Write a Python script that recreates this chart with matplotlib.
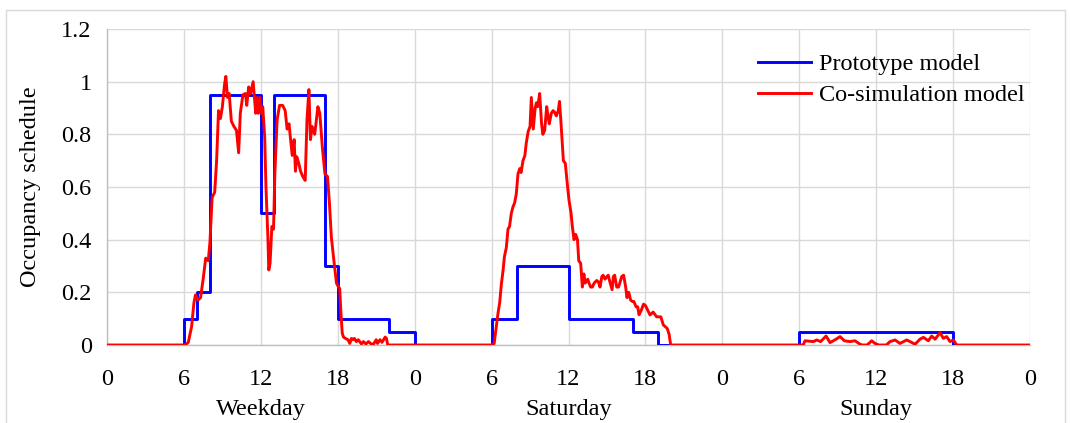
import matplotlib
matplotlib.use("Agg")
import matplotlib.pyplot as plt
from matplotlib.patches import Rectangle

# ---- Prototype model (hourly step schedule, value for each hour) ----
weekday_proto = [0, 0, 0, 0, 0, 0, 0.1, 0.2, 0.95, 0.95, 0.95, 0.95,
                 0.5, 0.95, 0.95, 0.95, 0.95, 0.3, 0.1, 0.1, 0.1, 0.1, 0.05, 0.05]
saturday_proto = [0, 0, 0, 0, 0, 0, 0.1, 0.1, 0.3, 0.3, 0.3, 0.3,
                  0.1, 0.1, 0.1, 0.1, 0.1, 0.05, 0.05, 0, 0, 0, 0, 0]
sunday_proto = [0, 0, 0, 0, 0, 0, 0.05, 0.05, 0.05, 0.05, 0.05, 0.05,
                0.05, 0.05, 0.05, 0.05, 0.05, 0.05, 0, 0, 0, 0, 0, 0]

# ---- Co-simulation model (hour of day, value) ----
weekday_cosim_t = [0, 6.0, 6.1, 6.34, 6.6, 6.78, 6.9, 7.1, 7.3, 7.5, 7.7, 7.9, 8.03, 8.2, 8.4,
                   8.55, 8.7, 8.85, 9.0, 9.17, 9.27, 9.4, 9.53, 9.7, 9.9, 10.1, 10.27, 10.4,
                   10.6, 10.8, 10.9, 11.05, 11.2, 11.4, 11.6, 11.7, 11.8, 11.92, 12.03, 12.15,
                   12.3, 12.4, 12.55, 12.62, 12.72, 12.86, 12.99, 13.1, 13.27, 13.46, 13.7,
                   13.9, 14.05, 14.2, 14.3, 14.45, 14.6, 14.7, 14.8, 14.96, 15.1, 15.27, 15.46,
                   15.6, 15.75, 15.87, 16.0, 16.2, 16.3, 16.45, 16.6, 16.8, 17.0, 17.2, 17.35,
                   17.5, 17.7, 17.9, 18.06, 18.15, 18.25, 18.35, 18.45, 18.6, 18.8, 18.94,
                   19.07, 19.2, 19.3, 19.45, 19.6, 19.85, 20.0, 20.2, 20.4, 20.6, 20.8, 21.0,
                   21.1, 21.3, 21.45, 21.7, 21.8, 21.9, 24.0]
weekday_cosim_v = [0, 0, 0.0, 0.01, 0.07, 0.16, 0.19, 0.17, 0.18, 0.25, 0.33, 0.32, 0.39, 0.56, 0.58,
                   0.70, 0.89, 0.86, 0.905, 0.99, 1.02, 0.94, 0.955, 0.85, 0.83, 0.815, 0.73, 0.88,
                   0.95, 0.955, 0.91, 0.98, 0.955, 1.0, 0.88, 0.94, 0.88, 0.94, 0.88, 0.905,
                   0.79, 0.60, 0.41, 0.285, 0.31, 0.45, 0.44, 0.66, 0.855, 0.91, 0.91,
                   0.89, 0.82, 0.84, 0.79, 0.72, 0.78, 0.66, 0.715, 0.69, 0.66, 0.64, 0.625,
                   0.855, 0.97, 0.78, 0.83, 0.80, 0.84, 0.905, 0.88, 0.75, 0.65, 0.64, 0.54,
                   0.41, 0.32, 0.235, 0.22, 0.215, 0.12, 0.045, 0.03, 0.025, 0.02, 0.006,
                   0.025, 0.02, 0.025, 0.013, 0.02, 0.004, 0.013, 0.004, 0.013, 0.004, 0.004, 0.02,
                   0.006, 0.02, 0.01, 0.03, 0.025, 0.0, 0]

saturday_cosim_t = [0, 6.0, 6.2, 6.37, 6.5, 6.63, 6.76, 6.9, 7.0, 7.15, 7.28, 7.4, 7.54, 7.67, 7.8,
                    7.93, 8.06, 8.2, 8.3, 8.45, 8.6, 8.7, 8.85, 9.0, 9.1, 9.25, 9.4, 9.5, 9.6,
                    9.75, 9.9, 10.0, 10.14, 10.3, 10.4, 10.5, 10.66, 10.8, 10.9, 11.05, 11.2,
                    11.3, 11.4, 11.6, 11.75, 11.93, 12.04, 12.2, 12.3, 12.43, 12.56, 12.7, 12.8,
                    12.95, 13.08, 13.2, 13.3, 13.5, 13.6, 13.73, 13.86, 14.0, 14.2, 14.33, 14.46,
                    14.6, 14.7, 14.85, 15.0, 15.1, 15.2, 15.4, 15.5, 15.6, 15.76, 15.9, 16.0,
                    16.15, 16.3, 16.46, 16.56, 16.7, 16.85, 17.0, 17.1, 17.27, 17.4, 17.5, 17.66,
                    17.85, 18.0, 18.2, 18.36, 18.6, 18.88, 19.2, 19.4, 19.7, 19.85, 19.97, 24.0]
saturday_cosim_v = [0, 0, 0.006, 0.07, 0.12, 0.16, 0.23, 0.285, 0.335, 0.37, 0.44, 0.45, 0.50, 0.525, 0.54,
                    0.575, 0.65, 0.67, 0.655, 0.70, 0.72, 0.765, 0.81, 0.83, 0.94, 0.82, 0.90, 0.92, 0.905,
                    0.955, 0.84, 0.80, 0.815, 0.905, 0.87, 0.84, 0.88, 0.89, 0.885, 0.87, 0.89,
                    0.925, 0.855, 0.70, 0.69, 0.60, 0.55, 0.50, 0.45, 0.40, 0.42, 0.40, 0.32,
                    0.31, 0.22, 0.27, 0.235, 0.25, 0.235, 0.22, 0.22, 0.235, 0.245, 0.24, 0.22,
                    0.26, 0.265, 0.25, 0.26, 0.265, 0.245, 0.21, 0.26, 0.265, 0.22, 0.22, 0.235,
                    0.26, 0.265, 0.22, 0.18, 0.20, 0.17, 0.165, 0.165, 0.145, 0.145, 0.115, 0.13,
                    0.155, 0.15, 0.13, 0.114, 0.125, 0.107, 0.107, 0.076, 0.063, 0.04, 0.0, 0]

sunday_cosim_t = [0, 6.3, 6.45, 7.1, 7.36, 7.67, 8.09, 8.4, 8.87, 9.18, 9.52, 9.96, 10.35, 10.74,
                  10.9, 11.3, 11.65, 11.91, 12.2, 12.8, 13.08, 13.47, 13.86, 14.38, 14.64, 15.03,
                  15.42, 15.68, 16.07, 16.33, 16.6, 16.98, 17.24, 17.5, 17.76, 18.02, 18.28, 24.0]
sunday_cosim_v = [0, 0, 0.016, 0.013, 0.019, 0.013, 0.034, 0.009, 0.022, 0.032, 0.016, 0.013, 0.016, 0.003,
                  0.0, 0.0, 0.016, 0.006, 0.0, 0.0, 0.013, 0.019, 0.006, 0.019, 0.013, 0.003,
                  0.022, 0.029, 0.016, 0.034, 0.022, 0.047, 0.025, 0.032, 0.013, 0.019, 0.0, 0]

day_labels = ["Weekday", "Saturday", "Sunday"]
tick_labels = ["0", "6", "12", "18", "0", "6", "12", "18", "0", "6", "12", "18", "0"]
y_ticks = [0, 0.2, 0.4, 0.6, 0.8, 1.0, 1.2]
y_tick_labels = ["0", "0.2", "0.4", "0.6", "0.8", "1", "1.2"]

# ---- assemble ----
proto = weekday_proto + saturday_proto + sunday_proto
proto_x = list(range(len(proto) + 1))
proto_y = proto + [proto[-1]]

cos_x, cos_y = [], []
for d, (t, v) in enumerate([(weekday_cosim_t, weekday_cosim_v),
                            (saturday_cosim_t, saturday_cosim_v),
                            (sunday_cosim_t, sunday_cosim_v)]):
    cos_x += [24 * d + h for h in t]
    cos_y += v

plt.rcParams['font.family'] = ['Liberation Serif', 'DejaVu Serif']
FS = 17.5

W, H = 1070, 423
fig = plt.figure(figsize=(W / 100, H / 100), dpi=100)
ax = fig.add_axes([107 / W, 1 - 345 / H, (1030 - 107) / W, (345 - 29) / H])

fig.patches.append(Rectangle((6 / W, -0.01), (1065 - 6) / W, 1 - 10 / H + 0.01,
                             transform=fig.transFigure, fill=False,
                             edgecolor='#d9d9d9', linewidth=1.0))

ax.plot(proto_x, proto_y, drawstyle='steps-post', color='#0000ff', lw=2.1,
        label='Prototype model', zorder=3)
ax.plot(cos_x, cos_y, color='#ff0000', lw=2.1, label='Co-simulation model', zorder=4)

ax.set_xlim(0, 72)
ax.set_ylim(0, 1.2)
ax.set_xticks(range(0, 73, 6))
ax.set_xticklabels(tick_labels)
ax.set_yticks(y_ticks)
ax.set_yticklabels(y_tick_labels)
ax.tick_params(length=0, labelsize=FS, colors='black')
ax.tick_params(axis='x', pad=17)
ax.tick_params(axis='y', pad=11)
ax.grid(True, color='#d9d9d9', lw=1.0)
ax.set_axisbelow(True)
for s in ['top', 'right']:
    ax.spines[s].set_visible(False)
for s in ['left', 'bottom']:
    ax.spines[s].set_color('#bfbfbf')
    ax.spines[s].set_linewidth(1.0)

ax.set_ylabel('Occupancy schedule', fontsize=FS, va='center')
ax.yaxis.set_label_coords((31 - 107) / 923, 0.5)

for i, lab in enumerate(day_labels):
    ax.text(12 + 24 * i, -0.245, lab, ha='center', va='center', fontsize=FS,
            transform=ax.transData, clip_on=False)

leg = ax.legend(loc='upper left', bbox_to_anchor=((758 - 107) / 923, (345 - 53) / 316),
                frameon=False, fontsize=FS, handlelength=2.2, handletextpad=0.33,
                labelspacing=0.38, borderpad=0, borderaxespad=0)

fig.savefig('out.png', dpi=100)
